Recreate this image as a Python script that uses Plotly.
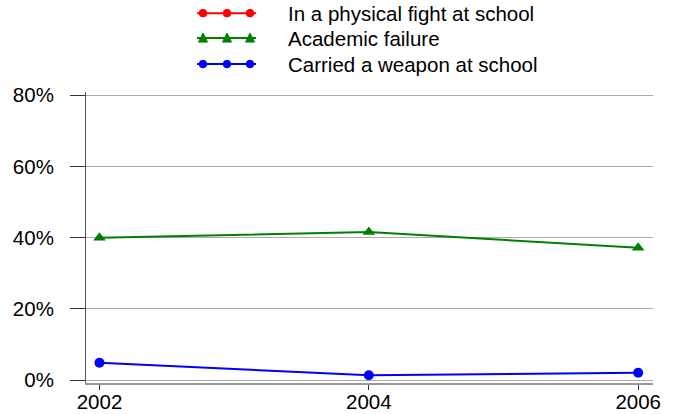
import plotly.graph_objects as go

years = [2002, 2004, 2006]
fight = [None, None, None]
academic = [40.0, 41.6, 37.2]
weapon = [4.9, 1.4, 2.1]
y_ticks = [0, 20, 40, 60, 80]
y_tick_labels = ["0%", "20%", "40%", "60%", "80%"]
series_names = ["In a physical fight at school", "Academic failure", "Carried a weapon at school"]
colors = ["#ff0000", "#008000", "#0000ff"]
symbols = ["circle", "triangle-up", "circle"]

W, H = 674, 414
ML, MR, MT, MB = 86, 21, 92, 30.5
PW = W - ML - MR
PH = H - MT - MB

FONT = "Liberation Sans, Arial, sans-serif"

fig = go.Figure()
for name, vals, col, sym in zip(series_names, [fight, academic, weapon], colors, symbols):
    fig.add_trace(go.Scatter(
        x=years, y=vals, name=name, mode="lines+markers",
        line=dict(color=col, width=2),
        marker=dict(color=col, symbol=sym, size=10 if sym == "circle" else 11),
        showlegend=False, connectgaps=False, hoverinfo="skip",
    ))

def px_x(px):
    return (px - ML) / PW

def px_y(py):
    return (H - MB - py) / PH

shapes = []
annotations = []
rows = [13, 38, 64]
for name, col, sym, ry in zip(series_names, colors, symbols, rows):
    shapes.append(dict(type="line", xref="paper", yref="paper",
                       x0=px_x(197), x1=px_x(256), y0=px_y(ry), y1=px_y(ry),
                       line=dict(color=col, width=2)))
    for mx in [203, 227, 250]:
        if sym == "circle":
            shapes.append(dict(type="circle", xref="paper", yref="paper",
                               xsizemode="pixel", ysizemode="pixel",
                               xanchor=px_x(mx), yanchor=px_y(ry),
                               x0=-3.8, x1=3.8, y0=-3.8, y1=3.8,
                               fillcolor=col, line=dict(color=col, width=1)))
        else:
            shapes.append(dict(type="path", xref="paper", yref="paper",
                               xsizemode="pixel", ysizemode="pixel",
                               xanchor=px_x(mx), yanchor=px_y(ry),
                               path="M -4.5 -4 L 4.5 -4 L 0 5 Z",
                               fillcolor=col, line=dict(color=col, width=1)))
    annotations.append(dict(text=name, xref="paper", yref="paper",
                            x=px_x(286), y=px_y(ry), xanchor="left", yanchor="middle",
                            showarrow=False, font=dict(size=20.5, color="#000000", family=FONT)))

fig.update_layout(
    width=W, height=H,
    margin=dict(l=ML, r=MR, t=MT, b=MB, pad=0, autoexpand=False),
    paper_bgcolor="white", plot_bgcolor="white",
    font=dict(family=FONT, size=20.5, color="#000000"),
    shapes=shapes, annotations=annotations,
    showlegend=False,
)
fig.update_xaxes(
    range=[2001.9, 2006.11], tickvals=years, ticktext=[str(y) for y in years],
    showgrid=False, zeroline=False, showline=True, linecolor="#999999", linewidth=2,
    ticks="outside", ticklen=5, tickcolor="#333333", tickwidth=1, automargin=False,
    ticklabelstandoff=-6,
)
fig.update_yaxes(
    range=[-0.78, 80.93], tickvals=y_ticks, ticktext=y_tick_labels,
    showgrid=True, gridcolor="#aaaaaa", gridwidth=1, zeroline=False,
    showline=True, linecolor="#555555", linewidth=1,
    ticks="outside", ticklen=15, tickcolor="#333333", tickwidth=1,
    ticklabelstandoff=12, automargin=False,
)

fig.write_html("out.html", config={"displayModeBar": False},
               post_script="document.body.style.margin='0';document.body.style.overflow='hidden';")
